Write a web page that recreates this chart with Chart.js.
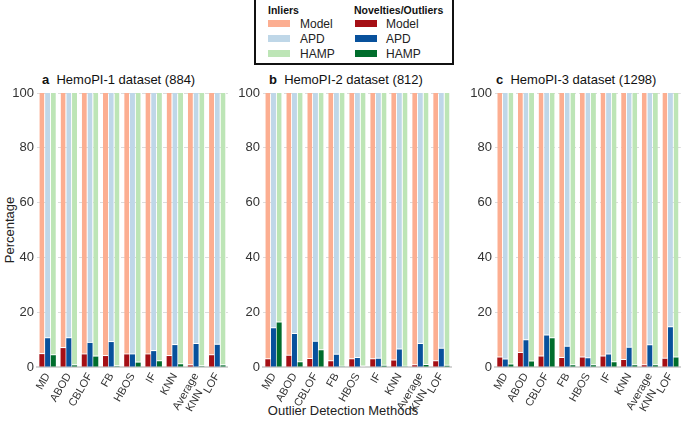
<!DOCTYPE html>
<html><head><meta charset="utf-8">
<script src="https://cdn.jsdelivr.net/npm/chart.js@4/dist/chart.umd.min.js"></script>
<style>
html,body{margin:0;padding:0;background:#fff;}
body{width:685px;height:424px;position:relative;overflow:hidden;font-family:"Liberation Sans",Arial,sans-serif;color:#222;}
.abs{position:absolute;white-space:nowrap;line-height:1;}
canvas{position:absolute;top:0;}
.sw{position:absolute;width:22px;height:7px;}
.lt{position:absolute;font-size:12px;line-height:1;color:#222;}
.lh{position:absolute;font-size:10.5px;font-weight:bold;line-height:1;color:#111;}
.pt{position:absolute;font-size:13px;line-height:1;color:#111;white-space:nowrap;}
</style></head><body>

<div class="abs" style="left:254px;top:-2px;width:196px;height:63px;border:2px solid #111;"></div>
<div class="lh" style="left:268px;top:5px;">Inliers</div>
<div class="lh" style="left:354px;top:5px;">Novelties/Outliers</div>
<div class="sw" style="left:268px;top:20px;background:#fcae91"></div>
<div class="sw" style="left:268px;top:35px;background:#bfd7e8"></div>
<div class="sw" style="left:268px;top:50px;background:#bde5b6"></div>
<div class="lt" style="left:300px;top:18px;">Model</div>
<div class="lt" style="left:300px;top:33px;">APD</div>
<div class="lt" style="left:300px;top:48px;">HAMP</div>
<div class="sw" style="left:355px;top:20px;background:#a50f15"></div>
<div class="sw" style="left:355px;top:35px;background:#08519c"></div>
<div class="sw" style="left:355px;top:50px;background:#006d2c"></div>
<div class="lt" style="left:386px;top:18px;">Model</div>
<div class="lt" style="left:386px;top:33px;">APD</div>
<div class="lt" style="left:386px;top:48px;">HAMP</div>

<div class="pt" style="left:42px;top:73px;"><b>a</b>&nbsp;&nbsp;HemoPI-1 dataset (884)</div>
<div class="pt" style="left:269px;top:73px;"><b>b</b>&nbsp;&nbsp;HemoPI-2 dataset (812)</div>
<div class="pt" style="left:496px;top:73px;"><b>c</b>&nbsp;&nbsp;HemoPI-3 dataset (1298)</div>

<div class="abs" style="left:343px;top:404px;transform:translateX(-50%);font-size:13px;color:#222;">Outlier Detection Methods</div>
<div class="abs" style="left:9px;top:230px;transform:translate(-50%,-50%) rotate(-90deg);font-size:13px;color:#222;">Percentage</div>

<canvas id="ca" width="232" height="424" style="left:0px;width:232px;height:424px"></canvas>
<canvas id="cb" width="230" height="424" style="left:226px;width:230px;height:424px"></canvas>
<canvas id="cc" width="227" height="424" style="left:458px;width:227px;height:424px"></canvas>

<script>
// ---- categories & ticks ----
const categories = ['MD','ABOD','CBLOF','FB','HBOS','IF','KNN',['Average','KNN    '],'LOF'];
const yTickValues = [0,20,40,60,80,100];

// ---- Panel a: HemoPI-1 (884) ----
const aModelOut = [4.7, 6.9, 4.6, 4.0, 4.6, 4.6, 4.0, 0.6, 4.3];
const aModelIn  = [95.3, 93.1, 95.4, 96.0, 95.4, 95.4, 96.0, 99.4, 95.7];
const aApdOut   = [10.5, 10.5, 8.8, 9.1, 4.6, 5.8, 8.0, 8.4, 8.1];
const aApdIn    = [89.5, 89.5, 91.2, 90.9, 95.4, 94.2, 92.0, 91.6, 91.9];
const aHampOut  = [4.3, 0.6, 3.8, 0.3, 1.6, 2.1, 1.0, 0.3, 0.6];
const aHampIn   = [95.7, 99.4, 96.2, 99.7, 98.4, 97.9, 99.0, 99.7, 99.4];

// ---- Panel b: HemoPI-2 (812) ----
const bModelOut = [2.8, 4.1, 2.9, 2.1, 2.8, 2.8, 2.4, 0.6, 2.1];
const bModelIn  = [97.2, 95.9, 97.1, 97.9, 97.2, 97.2, 97.6, 99.4, 97.9];
const bApdOut   = [14.1, 12.0, 9.2, 4.5, 3.3, 3.0, 6.4, 8.4, 6.7];
const bApdIn    = [85.9, 88.0, 90.8, 95.5, 96.7, 97.0, 93.6, 91.6, 93.3];
const bHampOut  = [16.2, 1.7, 6.1, 0.1, 0.0, 0.5, 0.1, 0.7, 0.5];
const bHampIn   = [83.8, 98.3, 93.9, 99.9, 100.0, 99.5, 99.9, 99.3, 99.5];

// ---- Panel c: HemoPI-3 (1298) ----
const cModelOut = [3.5, 5.1, 3.8, 3.3, 3.5, 3.8, 2.6, 0.6, 3.0];
const cModelIn  = [96.5, 94.9, 96.2, 96.7, 96.5, 96.2, 97.4, 99.4, 97.0];
const cApdOut   = [2.7, 9.8, 11.5, 7.4, 3.2, 4.6, 7.0, 7.9, 14.5];
const cApdIn    = [97.3, 90.2, 88.5, 92.6, 96.8, 95.4, 93.0, 92.1, 85.5];
const cHampOut  = [0.9, 2.0, 10.5, 0.6, 0.6, 1.7, 0.6, 0.6, 3.5];
const cHampIn   = [99.1, 98.0, 89.5, 99.4, 99.4, 98.3, 99.4, 99.4, 96.5];

const COL = {
  modelIn:'#fcae91', apdIn:'#bfd7e8', hampIn:'#bde5b6',
  modelOut:'#a50f15', apdOut:'#08519c', hampOut:'#006d2c'
};
const FONT = '"Liberation Sans", Arial, sans-serif';

function ds(data, color, stack, top) {
  return {
    data, backgroundColor: color, stack,
    borderColor: '#ffffff',
    borderWidth: top ? {top:0,left:0,right:0,bottom:1} : 0,
    borderSkipped: false
  };
}

function makeChart(id, mo, mi, ao, ai, ho, hi, padRight) {
  return new Chart(document.getElementById(id), {
    type: 'bar',
    data: {
      labels: categories,
      datasets: [
        ds(mo, COL.modelOut, 'Model', false), ds(mi, COL.modelIn, 'Model', true),
        ds(ao, COL.apdOut, 'APD', false),     ds(ai, COL.apdIn, 'APD', true),
        ds(ho, COL.hampOut, 'HAMP', false),   ds(hi, COL.hampIn, 'HAMP', true)
      ]
    },
    options: {
      responsive: false, animation: false, devicePixelRatio: 1,
      layout: { padding: { top: 93, left: 0, right: padRight, bottom: 0 } },
      plugins: { legend: { display: false }, tooltip: { enabled: false }, title: { display: false } },
      datasets: { bar: { barPercentage: 0.88, categoryPercentage: 0.81 } },
      scales: {
        x: {
          stacked: true,
          grid: { display: false, drawTicks: false },
          border: { display: true, color: '#d4d4d4', width: 2 },
          ticks: { color: '#333', font: { size: 11, family: FONT, lineHeight: 1.1 }, maxRotation: 60, minRotation: 60, padding: 4, autoSkip: false },
          afterFit(s) { s.height = 57; }
        },
        y: {
          stacked: true, min: 0, max: 100,
          afterBuildTicks(s) { s.ticks = yTickValues.map(v => ({ value: v })); },
          ticks: { color: '#333', font: { size: 13, family: FONT }, padding: 3 },
          grid: { color: '#dcdcdc', drawTicks: false, lineWidth: 1 },
          border: { display: false, dash: [4, 3] },
          afterFit(s) { s.width = 37; }
        }
      }
    }
  });
}

makeChart('ca', aModelOut, aModelIn, aApdOut, aApdIn, aHampOut, aHampIn, 4);
makeChart('cb', bModelOut, bModelIn, bApdOut, bApdIn, bHampOut, bHampIn, 3);
makeChart('cc', cModelOut, cModelIn, cApdOut, cApdIn, cHampOut, cHampIn, 1);
</script>
</body></html>
